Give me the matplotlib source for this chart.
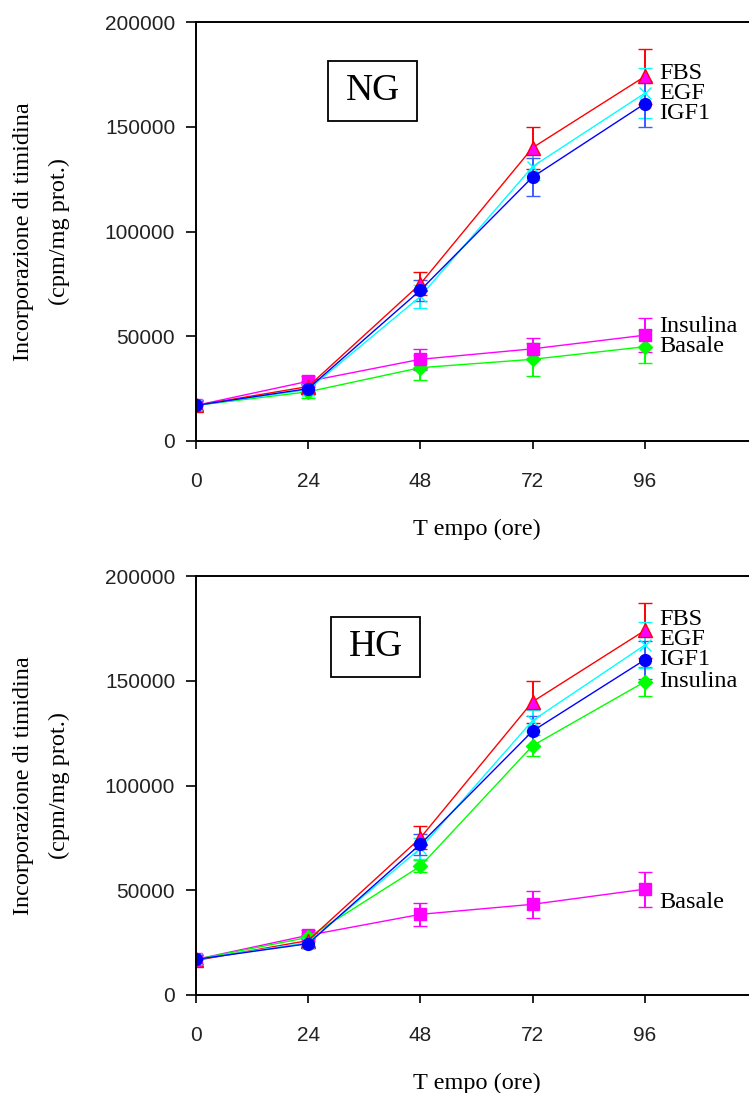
import matplotlib
matplotlib.use("Agg")
import matplotlib.pyplot as plt
from matplotlib.patches import Rectangle

# Sampling times (hours)
hours = [0, 24, 48, 72, 96]

# NG condition: mean thymidine incorporation and error
ng_fbs = [17000, 26000, 75000, 140000, 174000]
ng_fbs_err = [2500, 2500, 5500, 10000, 13000]
ng_egf = [17000, 24500, 69000, 131000, 166000]
ng_egf_err = [2000, 2500, 5500, 6500, 12000]
ng_igf1 = [17000, 25000, 72000, 126000, 161000]
ng_igf1_err = [2000, 2000, 5000, 9000, 11000]
ng_insulina = [17000, 28500, 39000, 44000, 50500]
ng_insulina_err = [2000, 2500, 5000, 5000, 8000]
ng_basale = [17000, 23500, 35000, 39000, 45000]
ng_basale_err = [2500, 3000, 6000, 8000, 8000]

# HG condition
hg_fbs = [16500, 26000, 75000, 140000, 174000]
hg_fbs_err = [2500, 2500, 5500, 10000, 13000]
hg_egf = [17000, 25000, 70000, 131000, 167000]
hg_egf_err = [2000, 2000, 5000, 5000, 11000]
hg_igf1 = [17000, 24500, 72000, 126000, 160000]
hg_igf1_err = [2000, 2000, 5000, 7000, 9000]
hg_insulina = [17000, 27500, 61500, 119000, 149500]
hg_insulina_err = [2000, 2000, 3000, 5000, 7000]
hg_basale = [17000, 28500, 38500, 43300, 50500]
hg_basale_err = [2000, 2500, 5500, 6500, 8300]

x_ticks = [0, 24, 48, 72, 96]
y_ticks = [0, 50000, 100000, 150000, 200000]

SERIF = ["Liberation Serif", "DejaVu Serif"]
SANS = ["Liberation Sans", "DejaVu Sans"]

RED, CYAN, BLUE, MAGENTA, GREEN = "#ff0000", "#00ffff", "#0000ff", "#ff00ff", "#00ff00"

W, H = 749, 1093
fig = plt.figure(figsize=(W / 100, H / 100), dpi=100)


def px_axes(left, top, right, bottom):
    return fig.add_axes([left / W, 1 - bottom / H, (right - left) / W, (bottom - top) / H])


def series(ax, y, err, line, marker, face, edge, ms, ecolor=None, z=2):
    ax.errorbar(hours, y, yerr=err, color=line, lw=1.0, marker=marker, ms=ms,
                mfc=face, mec=edge, mew=1.0, ecolor=ecolor or line, elinewidth=1.4,
                capsize=4.8, capthick=1.4, zorder=z)


def style(ax, tag, box):
    ax.set_xlim(0, 120)
    ax.set_ylim(0, 200000)
    ax.set_xticks(x_ticks)
    ax.set_yticks(y_ticks)
    ax.set_xticklabels([str(t) for t in x_ticks], family=SANS, fontsize=15, color="#222222")
    ax.set_yticklabels([str(t) for t in y_ticks], family=SANS, fontsize=15, color="#222222")
    ax.tick_params(axis="x", direction="out", length=6, width=1.2, pad=16)
    ax.tick_params(axis="y", direction="out", length=7, width=1.2, pad=8)
    ax.spines["right"].set_visible(False)
    for s in ("left", "bottom", "top"):
        ax.spines[s].set_linewidth(1.4)
    ax.set_xlabel("T empo (ore)", family=SERIF, fontsize=17.5, labelpad=20)
    bx0, by0, bx1, by1 = box
    fig.add_artist(Rectangle((bx0 / W, 1 - by1 / H), (bx1 - bx0) / W, (by1 - by0) / H,
                             transform=fig.transFigure, fill=False, lw=1.3, ec="black"))
    fig.text((bx0 + bx1) / 2 / W, 1 - (by0 + by1) / 2 / H, tag, family=SERIF,
             fontsize=27, ha="center", va="center")


def ylabel(top, bottom):
    yc = 1 - (top + bottom) / 2 / H
    fig.text(24 / W, yc, "Incorporazione di timidina", rotation=90, family=SERIF,
             fontsize=17.5, ha="center", va="center")
    fig.text(59 / W, yc, "(cpm/mg prot.)", rotation=90, family=SERIF,
             fontsize=17.5, ha="center", va="center")


def tag_labels(ax, names, ys):
    for name, yv in zip(names, ys):
        ax.text(99, yv, name, family=SERIF, fontsize=17.5, ha="left", va="center")


# ---- NG panel ----
ax1 = px_axes(196, 22, 757, 441)
series(ax1, ng_basale, ng_basale_err, GREEN, "D", GREEN, GREEN, 7)
series(ax1, ng_insulina, ng_insulina_err, MAGENTA, "s", MAGENTA, MAGENTA, 8)
series(ax1, ng_fbs, ng_fbs_err, RED, "^", MAGENTA, RED, 9.5)
series(ax1, ng_egf, ng_egf_err, CYAN, "x", CYAN, CYAN, 8)
series(ax1, ng_igf1, ng_igf1_err, BLUE, "o", BLUE, BLUE, 8.5, ecolor="#3a5cff")
style(ax1, "NG", (328, 61, 417, 121))
tag_labels(ax1, ["FBS", "EGF", "IGF1", "Insulina", "Basale"],
           [175500, 166000, 156500, 54500, 45000])
ylabel(22, 441)

# ---- HG panel ----
ax2 = px_axes(196, 576, 757, 995)
series(ax2, hg_basale, hg_basale_err, MAGENTA, "s", MAGENTA, MAGENTA, 8)
series(ax2, hg_insulina, hg_insulina_err, GREEN, "D", GREEN, GREEN, 7)
series(ax2, hg_fbs, hg_fbs_err, RED, "^", MAGENTA, RED, 9.5)
series(ax2, hg_egf, hg_egf_err, CYAN, "x", CYAN, CYAN, 8)
series(ax2, hg_igf1, hg_igf1_err, BLUE, "o", BLUE, BLUE, 8.5, ecolor="#3a5cff")
style(ax2, "HG", (331, 617, 420, 677))
tag_labels(ax2, ["FBS", "EGF", "IGF1", "Insulina", "Basale"],
           [179000, 169500, 160000, 149500, 44000])
ylabel(576, 995)

fig.savefig("out.png", dpi=100)
